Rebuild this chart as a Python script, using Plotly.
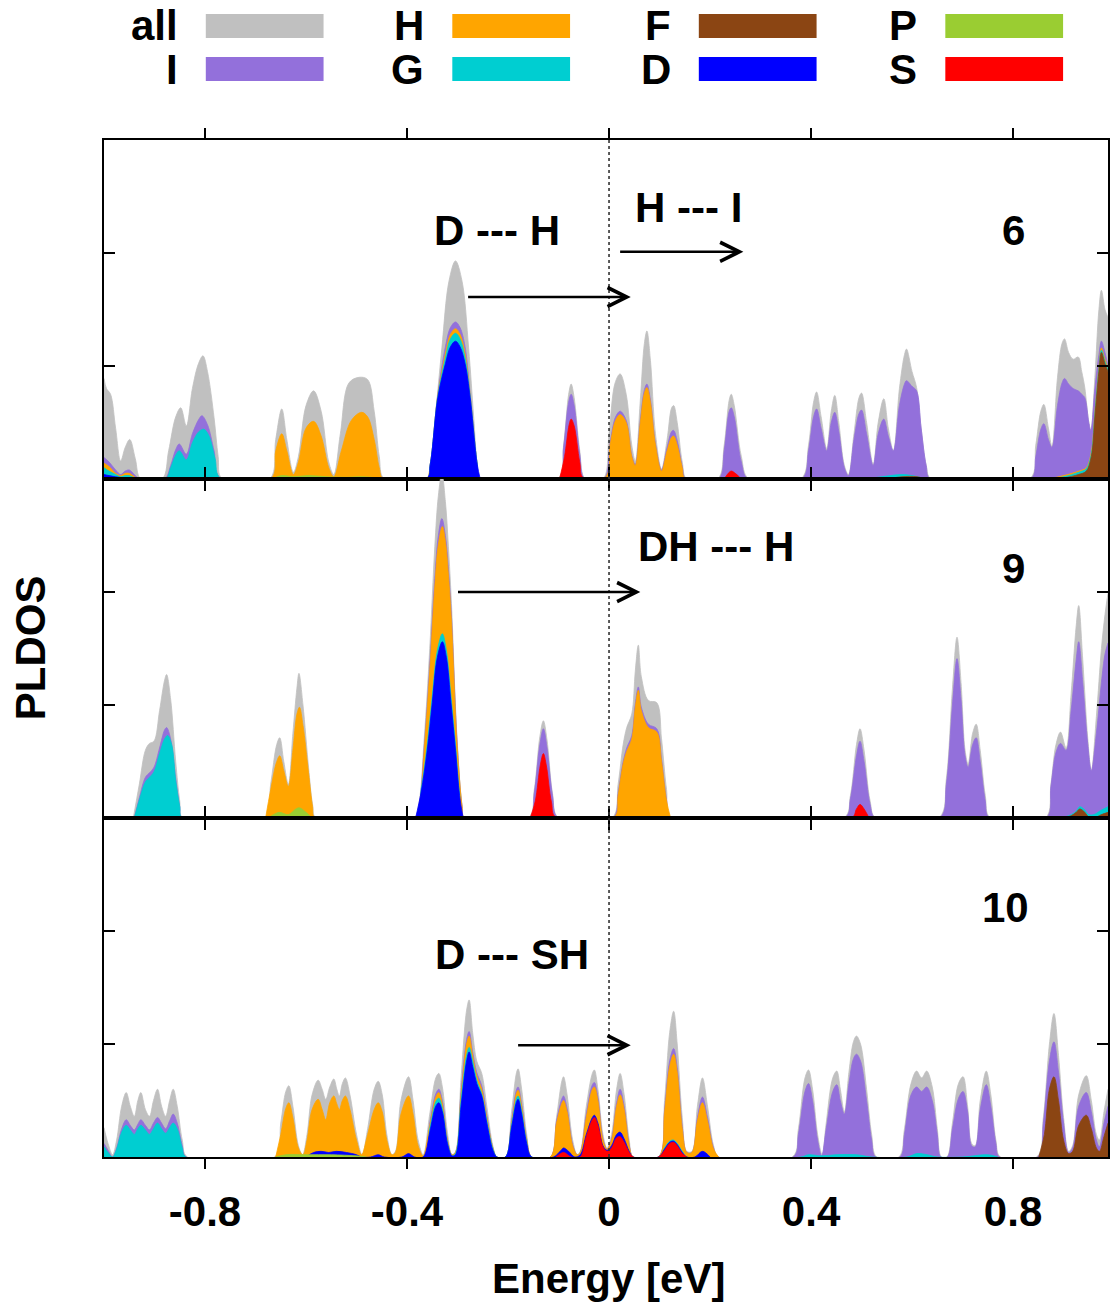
import plotly.graph_objects as go
from plotly.subplots import make_subplots

# ---------------- data ----------------
species = ["all", "I", "H", "G", "F", "D", "P", "S"]
colors = ["#c0c0c0", "#9370db", "#ffa500", "#00ced1", "#8b4513", "#0000ff", "#9acd32", "#ff0000"]
tick_vals = [-0.8, -0.4, 0, 0.4, 0.8]
tick_text = ["-0.8", "-0.4", "0", "0.4", "0.8"]
panel_labels = ["6", "9", "10"]

# panel "6" : cumulative PLDOS (energy eV, value) - top edges of each coloured layer
p6_all = [(-1.0,0.89),(-0.995,0.80),(-0.987,0.75),(-0.977,0.45),(-0.967,0.16),(-0.958,0.28),(-0.949,0.35),(-0.938,0.18),(-0.927,0.0),
          (-0.885,0.0),(-0.872,0.25),(-0.858,0.55),(-0.848,0.63),(-0.837,0.47),(-0.825,0.80),(-0.813,1.02),(-0.804,1.09),(-0.795,0.95),(-0.782,0.54),(-0.774,0.2),(-0.766,0.0),
          (-0.672,0.0),(-0.660,0.35),(-0.648,0.62),(-0.638,0.35),(-0.625,0.06),(-0.615,0.2),(-0.600,0.65),(-0.585,0.78),(-0.570,0.6),(-0.555,0.15),(-0.545,0.04),(-0.532,0.4),(-0.515,0.85),(-0.495,0.90),(-0.478,0.88),(-0.465,0.6),(-0.455,0.2),(-0.445,0.0),
          (-0.362,0.0),(-0.354,0.13),(-0.343,0.6),(-0.331,1.16),(-0.317,1.75),(-0.304,1.93),(-0.291,1.75),(-0.278,1.16),(-0.268,0.55),(-0.261,0.13),(-0.255,0.0),
          (-0.102,0.0),(-0.090,0.3),(-0.080,0.75),(-0.075,0.84),(-0.069,0.72),(-0.058,0.25),(-0.047,0.0),
          (-0.012,0.0),(0.0,0.4),(0.012,0.85),(0.022,0.93),(0.034,0.75),(0.045,0.3),(0.052,0.16),(0.062,0.7),(0.070,1.2),(0.075,1.31),(0.082,1.05),(0.092,0.4),(0.104,0.09),(0.115,0.35),(0.124,0.63),(0.128,0.65),(0.135,0.5),(0.145,0.15),(0.154,0.0),
          (0.215,0.0),(0.228,0.3),(0.238,0.7),(0.242,0.75),(0.248,0.65),(0.262,0.2),(0.277,0.0),
          (0.380,0.0),(0.395,0.3),(0.405,0.68),(0.411,0.77),(0.420,0.55),(0.431,0.27),(0.440,0.6),(0.447,0.74),(0.455,0.5),(0.466,0.12),(0.474,0.04),(0.485,0.4),(0.495,0.72),(0.500,0.76),(0.510,0.5),(0.523,0.13),(0.533,0.5),(0.544,0.71),(0.553,0.45),(0.563,0.25),(0.575,0.8),(0.585,1.1),(0.589,1.15),(0.600,0.95),(0.609,0.81),(0.618,0.45),(0.628,0.12),(0.638,0.0),
          (0.833,0.0),(0.845,0.3),(0.855,0.6),(0.861,0.66),(0.870,0.45),(0.877,0.29),(0.888,0.9),(0.897,1.2),(0.902,1.24),(0.910,1.12),(0.919,1.06),(0.929,1.08),(0.936,0.95),(0.942,0.81),(0.950,0.5),(0.954,0.43),(0.962,0.9),(0.970,1.5),(0.975,1.67),(0.982,1.5),(0.988,1.43)]
p6_I = [(-1.0,0.19),(-0.99,0.15),(-0.977,0.08),(-0.967,0.04),(-0.958,0.07),(-0.950,0.08),(-0.940,0.04),(-0.930,0.0),
        (-0.880,0.0),(-0.868,0.12),(-0.858,0.26),(-0.851,0.31),(-0.837,0.22),(-0.825,0.40),(-0.812,0.53),(-0.806,0.56),(-0.795,0.48),(-0.782,0.25),(-0.768,0.0),
        (-0.362,0.0),(-0.354,0.13),(-0.339,0.75),(-0.324,1.17),(-0.314,1.34),(-0.304,1.39),(-0.295,1.34),(-0.285,1.17),(-0.275,0.75),(-0.261,0.13),(-0.255,0.0),
        (-0.100,0.0),(-0.090,0.28),(-0.080,0.68),(-0.075,0.75),(-0.069,0.65),(-0.058,0.22),(-0.048,0.0),
        (-0.010,0.0),(0.002,0.32),(0.013,0.55),(0.022,0.60),(0.034,0.52),(0.045,0.21),(0.052,0.13),(0.062,0.52),(0.070,0.79),(0.075,0.84),(0.082,0.70),(0.092,0.31),(0.104,0.08),(0.115,0.28),(0.124,0.42),(0.128,0.43),(0.135,0.34),(0.145,0.11),(0.152,0.0),
        (0.217,0.0),(0.228,0.25),(0.238,0.6),(0.242,0.63),(0.248,0.55),(0.262,0.15),(0.275,0.0),
        (0.382,0.0),(0.395,0.25),(0.405,0.55),(0.411,0.62),(0.420,0.45),(0.431,0.25),(0.440,0.5),(0.447,0.59),(0.455,0.42),(0.466,0.1),(0.474,0.03),(0.485,0.35),(0.495,0.58),(0.500,0.61),(0.510,0.4),(0.523,0.12),(0.533,0.4),(0.544,0.53),(0.553,0.38),(0.563,0.25),(0.575,0.65),(0.585,0.84),(0.589,0.87),(0.600,0.82),(0.609,0.78),(0.618,0.45),(0.628,0.12),(0.636,0.0),
        (0.835,0.0),(0.845,0.2),(0.855,0.44),(0.861,0.49),(0.870,0.35),(0.877,0.28),(0.888,0.65),(0.897,0.85),(0.902,0.89),(0.910,0.84),(0.919,0.80),(0.929,0.78),(0.936,0.75),(0.942,0.72),(0.950,0.5),(0.954,0.43),(0.962,0.8),(0.970,1.1),(0.975,1.22),(0.982,1.12),(0.988,1.0)]
p6_H = [(-1.0,0.14),(-0.99,0.11),(-0.977,0.05),(-0.967,0.03),(-0.958,0.05),(-0.950,0.05),(-0.940,0.02),(-0.932,0.0),
        (-0.670,0.0),(-0.660,0.25),(-0.648,0.40),(-0.638,0.25),(-0.625,0.04),(-0.615,0.15),(-0.600,0.45),(-0.585,0.51),(-0.570,0.38),(-0.555,0.1),(-0.545,0.02),(-0.530,0.25),(-0.510,0.52),(-0.490,0.59),(-0.478,0.55),(-0.465,0.35),(-0.455,0.1),(-0.447,0.0),
        (-0.362,0.0),(-0.354,0.13),(-0.339,0.74),(-0.324,1.11),(-0.314,1.28),(-0.304,1.33),(-0.295,1.28),(-0.285,1.11),(-0.275,0.74),(-0.261,0.13),(-0.255,0.0),
        (-0.010,0.0),(0.002,0.3),(0.013,0.52),(0.022,0.57),(0.034,0.5),(0.045,0.2),(0.052,0.12),(0.062,0.5),(0.070,0.76),(0.075,0.81),(0.082,0.68),(0.092,0.3),(0.104,0.07),(0.115,0.25),(0.124,0.37),(0.128,0.38),(0.135,0.3),(0.145,0.1),(0.152,0.0),
        (0.86,0.0),(0.90,0.03),(0.93,0.07),(0.945,0.1),(0.955,0.24),(0.962,0.59),(0.970,0.99),(0.975,1.16),(0.982,1.06),(0.988,0.99)]
p6_G = [(-1.0,0.10),(-0.99,0.07),(-0.977,0.04),(-0.967,0.02),(-0.958,0.03),(-0.950,0.03),(-0.940,0.01),(-0.934,0.0),
        (-0.878,0.0),(-0.868,0.1),(-0.858,0.21),(-0.851,0.25),(-0.837,0.17),(-0.825,0.32),(-0.812,0.42),(-0.802,0.44),(-0.792,0.38),(-0.780,0.18),(-0.768,0.0),
        (-0.362,0.0),(-0.354,0.13),(-0.339,0.73),(-0.324,1.07),(-0.314,1.24),(-0.304,1.29),(-0.295,1.24),(-0.285,1.07),(-0.275,0.73),(-0.261,0.13),(-0.255,0.0),
        (0.50,0.0),(0.54,0.02),(0.58,0.04),(0.60,0.03),(0.62,0.01),(0.63,0.0),
        (0.86,0.0),(0.90,0.02),(0.93,0.06),(0.945,0.09),(0.955,0.22),(0.962,0.57),(0.970,0.97),(0.975,1.14),(0.982,1.04),(0.988,0.97)]
p6_F = [(0.55,0.0),(0.58,0.02),(0.61,0.02),(0.63,0.0),
        (0.86,0.0),(0.90,0.01),(0.93,0.04),(0.945,0.07),(0.955,0.2),(0.962,0.55),(0.970,0.95),(0.975,1.12),(0.982,1.02),(0.988,0.95)]
p6_D = [(-1.0,0.04),(-0.99,0.03),(-0.977,0.02),(-0.960,0.01),(-0.945,0.01),(-0.935,0.0),
        (-0.362,0.0),(-0.354,0.13),(-0.339,0.72),(-0.324,1.02),(-0.314,1.17),(-0.304,1.22),(-0.295,1.17),(-0.285,1.02),(-0.275,0.72),(-0.261,0.13),(-0.255,0.0)]
p6_P = [(-0.668,0.0),(-0.648,0.03),(-0.625,0.02),(-0.595,0.03),(-0.56,0.02),(-0.52,0.015),(-0.49,0.02),(-0.46,0.01),(-0.45,0.0)]
p6_S = [(-0.098,0.0),(-0.088,0.2),(-0.079,0.48),(-0.075,0.53),(-0.069,0.47),(-0.058,0.15),(-0.049,0.0),
        (0.225,0.0),(0.236,0.05),(0.242,0.07),(0.250,0.05),(0.262,0.0)]

# panel "9"
p9_all = [(-0.942,0.0),(-0.930,0.3),(-0.918,0.6),(-0.910,0.66),(-0.901,0.68),(-0.890,0.95),(-0.880,1.22),(-0.876,1.27),(-0.868,1.05),(-0.858,0.5),(-0.850,0.15),(-0.844,0.0),
          (-0.682,0.0),(-0.670,0.3),(-0.658,0.65),(-0.652,0.71),(-0.644,0.5),(-0.635,0.30),(-0.626,0.75),(-0.618,1.15),(-0.614,1.28),(-0.606,1.0),(-0.595,0.45),(-0.587,0.12),(-0.580,0.0),
          (-0.387,0.0),(-0.377,0.12),(-0.366,0.7),(-0.355,1.5),(-0.345,2.4),(-0.338,2.85),(-0.331,3.05),(-0.324,2.8),(-0.318,2.4),(-0.312,1.9),(-0.301,0.71),(-0.291,0.12),(-0.285,0.0),
          (-0.160,0.0),(-0.148,0.25),(-0.137,0.72),(-0.130,0.86),(-0.123,0.7),(-0.112,0.22),(-0.100,0.0),
          (0.006,0.0),(0.018,0.3),(0.028,0.65),(0.035,0.80),(0.045,0.92),(0.052,1.3),(0.058,1.53),(0.064,1.25),(0.078,1.04),(0.0946,1.02),(0.104,0.7),(0.114,0.25),(0.124,0.0),
          (0.465,0.0),(0.478,0.2),(0.490,0.65),(0.497,0.79),(0.505,0.6),(0.517,0.15),(0.528,0.0),
          (0.653,0.0),(0.668,0.35),(0.680,1.15),(0.689,1.60),(0.697,1.2),(0.705,0.6),(0.711,0.48),(0.720,0.75),(0.727,0.83),(0.735,0.6),(0.745,0.2),(0.755,0.0),
          (0.864,0.0),(0.875,0.3),(0.885,0.65),(0.894,0.76),(0.905,0.62),(0.915,1.1),(0.925,1.7),(0.930,1.88),(0.938,1.4),(0.948,0.7),(0.955,0.42),(0.965,0.9),(0.975,1.5),(0.982,1.8),(0.988,1.99)]
p9_I = [(-0.940,0.0),(-0.930,0.18),(-0.918,0.36),(-0.910,0.40),(-0.901,0.45),(-0.890,0.62),(-0.880,0.78),(-0.876,0.80),(-0.868,0.7),(-0.858,0.35),(-0.850,0.1),(-0.845,0.0),
        (-0.385,0.0),(-0.376,0.12),(-0.366,0.62),(-0.355,1.35),(-0.345,2.12),(-0.338,2.5),(-0.331,2.65),(-0.324,2.5),(-0.318,2.2),(-0.312,1.78),(-0.301,0.68),(-0.291,0.1),(-0.286,0.0),
        (-0.158,0.0),(-0.148,0.22),(-0.137,0.65),(-0.130,0.79),(-0.123,0.63),(-0.112,0.2),(-0.101,0.0),
        (0.008,0.0),(0.018,0.22),(0.028,0.5),(0.035,0.62),(0.045,0.73),(0.052,1.01),(0.058,1.16),(0.064,0.98),(0.078,0.83),(0.0946,0.79),(0.104,0.52),(0.114,0.16),(0.123,0.0),
        (0.467,0.0),(0.478,0.17),(0.490,0.55),(0.497,0.68),(0.505,0.5),(0.517,0.12),(0.527,0.0),
        (0.655,0.0),(0.668,0.3),(0.680,1.0),(0.689,1.41),(0.697,1.05),(0.705,0.55),(0.711,0.45),(0.720,0.65),(0.727,0.71),(0.735,0.5),(0.745,0.15),(0.753,0.0),
        (0.866,0.0),(0.875,0.28),(0.885,0.58),(0.894,0.66),(0.905,0.6),(0.915,0.95),(0.925,1.4),(0.930,1.56),(0.938,1.2),(0.948,0.65),(0.955,0.42),(0.965,0.75),(0.975,1.2),(0.982,1.45),(0.988,1.55)]
p9_H = [(-0.680,0.0),(-0.670,0.25),(-0.658,0.5),(-0.652,0.55),(-0.644,0.42),(-0.635,0.28),(-0.626,0.6),(-0.618,0.92),(-0.613,0.98),(-0.606,0.82),(-0.595,0.4),(-0.587,0.1),(-0.582,0.0),
        (-0.384,0.0),(-0.375,0.12),(-0.366,0.6),(-0.355,1.3),(-0.345,2.05),(-0.338,2.42),(-0.330,2.58),(-0.324,2.45),(-0.318,2.15),(-0.312,1.74),(-0.301,0.66),(-0.291,0.1),(-0.287,0.0),
        (0.009,0.0),(0.018,0.2),(0.028,0.48),(0.035,0.59),(0.045,0.7),(0.052,0.98),(0.058,1.13),(0.064,0.95),(0.078,0.80),(0.0946,0.76),(0.104,0.5),(0.114,0.15),(0.122,0.0)]
p9_G = [(-0.940,0.0),(-0.930,0.16),(-0.918,0.32),(-0.910,0.36),(-0.901,0.41),(-0.890,0.57),(-0.880,0.70),(-0.874,0.73),(-0.866,0.65),(-0.858,0.33),(-0.850,0.1),(-0.845,0.0),
        (-0.383,0.0),(-0.372,0.25),(-0.360,0.65),(-0.350,1.08),(-0.340,1.48),(-0.330,1.63),(-0.322,1.48),(-0.313,1.08),(-0.304,0.65),(-0.296,0.22),(-0.288,0.0),
        (0.880,0.0),(0.910,0.02),(0.925,0.06),(0.932,0.1),(0.940,0.08),(0.950,0.03),(0.960,0.03),(0.975,0.07),(0.988,0.10)]
p9_F = [(0.900,0.0),(0.915,0.02),(0.925,0.05),(0.932,0.08),(0.940,0.06),(0.950,0.01),(0.960,0.0),(0.975,0.03),(0.988,0.05)]
p9_D = [(-0.383,0.0),(-0.372,0.23),(-0.360,0.6),(-0.350,1.02),(-0.340,1.42),(-0.330,1.56),(-0.322,1.42),(-0.313,1.02),(-0.304,0.6),(-0.296,0.2),(-0.289,0.0)]
p9_P = [(-0.675,0.0),(-0.660,0.04),(-0.652,0.05),(-0.635,0.03),(-0.620,0.08),(-0.613,0.09),(-0.600,0.05),(-0.588,0.0)]
p9_S = [(-0.156,0.0),(-0.146,0.15),(-0.136,0.47),(-0.130,0.57),(-0.124,0.46),(-0.114,0.14),(-0.104,0.0),
        (0.480,0.0),(0.490,0.08),(0.497,0.12),(0.505,0.08),(0.515,0.0)]

# panel "10"
p10_all = [(-1.0,0.26),(-0.992,0.12),(-0.983,0.02),(-0.975,0.15),(-0.965,0.45),(-0.956,0.57),(-0.948,0.45),(-0.940,0.36),(-0.933,0.5),(-0.927,0.57),(-0.918,0.42),(-0.910,0.36),(-0.902,0.5),(-0.894,0.60),(-0.886,0.45),(-0.878,0.36),(-0.870,0.5),(-0.863,0.60),(-0.855,0.45),(-0.845,0.15),(-0.835,0.0),
           (-0.662,0.0),(-0.650,0.3),(-0.640,0.58),(-0.634,0.63),(-0.626,0.45),(-0.615,0.1),(-0.607,0.02),(-0.598,0.2),(-0.588,0.55),(-0.576,0.68),(-0.568,0.6),(-0.561,0.51),(-0.553,0.62),(-0.545,0.69),(-0.539,0.6),(-0.534,0.54),(-0.528,0.65),(-0.522,0.70),(-0.513,0.55),(-0.500,0.2),(-0.489,0.02),(-0.478,0.25),(-0.465,0.6),(-0.457,0.67),(-0.449,0.55),(-0.440,0.2),(-0.430,0.02),(-0.423,0.05),(-0.412,0.5),(-0.397,0.71),(-0.388,0.5),(-0.378,0.15),(-0.368,0.02),
           (-0.355,0.38),(-0.343,0.7),(-0.337,0.74),(-0.330,0.62),(-0.320,0.22),(-0.311,0.02),(-0.304,0.05),(-0.293,0.7),(-0.282,1.3),(-0.277,1.39),(-0.270,1.1),(-0.262,0.85),(-0.252,0.74),(-0.242,0.45),(-0.230,0.1),(-0.222,0.0),
           (-0.205,0.0),(-0.193,0.4),(-0.183,0.75),(-0.180,0.78),(-0.173,0.6),(-0.163,0.2),(-0.153,0.0),
           (-0.116,0.0),(-0.104,0.35),(-0.093,0.68),(-0.090,0.71),(-0.083,0.55),(-0.072,0.15),(-0.063,0.02),(-0.057,0.05),(-0.045,0.45),(-0.033,0.74),(-0.029,0.77),(-0.022,0.6),(-0.012,0.2),(-0.004,0.08),(0.005,0.2),(0.015,0.6),(0.022,0.74),(0.030,0.55),(0.040,0.15),(0.048,0.0),
           (0.098,0.0),(0.110,0.5),(0.120,1.1),(0.128,1.29),(0.135,1.0),(0.145,0.35),(0.154,0.05),(0.164,0.05),(0.175,0.45),(0.185,0.70),(0.195,0.45),(0.207,0.1),(0.217,0.0),
           (0.363,0.0),(0.375,0.25),(0.388,0.7),(0.395,0.77),(0.403,0.6),(0.413,0.2),(0.422,0.02),(0.430,0.3),(0.443,0.7),(0.451,0.76),(0.458,0.6),(0.466,0.40),(0.475,0.75),(0.484,1.02),(0.490,1.07),(0.498,1.0),(0.510,0.6),(0.520,0.2),(0.530,0.0),
           (0.574,0.0),(0.585,0.25),(0.598,0.65),(0.609,0.76),(0.619,0.70),(0.629,0.76),(0.640,0.62),(0.650,0.25),(0.658,0.0),
           (0.669,0.0),(0.680,0.3),(0.692,0.65),(0.701,0.71),(0.710,0.45),(0.718,0.12),(0.725,0.1),(0.735,0.5),(0.747,0.76),(0.756,0.55),(0.766,0.15),(0.775,0.0),
           (0.847,0.0),(0.860,0.35),(0.872,1.0),(0.881,1.27),(0.890,0.9),(0.900,0.35),(0.910,0.05),(0.918,0.1),(0.930,0.55),(0.945,0.72),(0.955,0.5),(0.965,0.2),(0.971,0.15),(0.980,0.4),(0.988,0.6)]
p10_I = [(-1.0,0.12),(-0.992,0.06),(-0.983,0.0),(-0.975,0.08),(-0.965,0.25),(-0.956,0.33),(-0.948,0.28),(-0.940,0.24),(-0.933,0.29),(-0.927,0.33),(-0.918,0.28),(-0.910,0.24),(-0.902,0.3),(-0.894,0.35),(-0.886,0.3),(-0.878,0.25),(-0.870,0.32),(-0.863,0.38),(-0.855,0.3),(-0.845,0.1),(-0.837,0.0),
         (-0.368,0.0),(-0.355,0.3),(-0.343,0.56),(-0.337,0.6),(-0.330,0.5),(-0.320,0.16),(-0.311,0.02),(-0.304,0.04),(-0.293,0.58),(-0.282,1.04),(-0.277,1.11),(-0.270,0.93),(-0.262,0.75),(-0.252,0.63),(-0.242,0.37),(-0.230,0.08),(-0.222,0.0),
         (-0.205,0.0),(-0.193,0.32),(-0.183,0.60),(-0.180,0.62),(-0.173,0.47),(-0.163,0.16),(-0.153,0.0),
         (-0.116,0.0),(-0.104,0.32),(-0.093,0.52),(-0.090,0.54),(-0.083,0.43),(-0.072,0.11),(-0.063,0.02),(-0.057,0.04),(-0.045,0.38),(-0.033,0.64),(-0.029,0.66),(-0.022,0.53),(-0.012,0.16),(-0.004,0.07),(0.005,0.16),(0.015,0.48),(0.022,0.6),(0.030,0.45),(0.040,0.11),(0.048,0.0),
         (0.098,0.0),(0.110,0.42),(0.120,0.85),(0.128,0.96),(0.135,0.79),(0.145,0.27),(0.154,0.04),(0.164,0.04),(0.175,0.35),(0.185,0.53),(0.195,0.35),(0.207,0.08),(0.217,0.0),
         (0.365,0.0),(0.375,0.2),(0.388,0.58),(0.395,0.65),(0.403,0.5),(0.413,0.15),(0.421,0.01),(0.430,0.25),(0.443,0.58),(0.451,0.64),(0.458,0.5),(0.466,0.38),(0.475,0.65),(0.484,0.87),(0.490,0.91),(0.498,0.85),(0.510,0.5),(0.520,0.15),(0.528,0.0),
         (0.576,0.0),(0.585,0.2),(0.598,0.55),(0.609,0.62),(0.619,0.58),(0.629,0.62),(0.640,0.5),(0.650,0.2),(0.657,0.0),
         (0.670,0.0),(0.680,0.25),(0.692,0.52),(0.701,0.58),(0.710,0.4),(0.718,0.1),(0.725,0.09),(0.735,0.42),(0.747,0.64),(0.756,0.45),(0.766,0.12),(0.773,0.0),
         (0.849,0.0),(0.860,0.3),(0.872,0.85),(0.881,1.02),(0.890,0.75),(0.900,0.3),(0.910,0.04),(0.918,0.08),(0.930,0.45),(0.945,0.57),(0.955,0.4),(0.965,0.15),(0.971,0.09),(0.980,0.3),(0.988,0.45)]
p10_H = [(-0.660,0.0),(-0.650,0.2),(-0.640,0.43),(-0.634,0.48),(-0.626,0.35),(-0.615,0.08),(-0.606,0.02),(-0.598,0.15),(-0.588,0.42),(-0.576,0.51),(-0.568,0.42),(-0.561,0.33),(-0.553,0.48),(-0.545,0.54),(-0.539,0.47),(-0.534,0.42),(-0.528,0.5),(-0.522,0.54),(-0.513,0.42),(-0.500,0.15),(-0.490,0.02),(-0.478,0.2),(-0.465,0.42),(-0.457,0.48),(-0.449,0.4),(-0.440,0.15),(-0.430,0.02),(-0.423,0.04),(-0.412,0.38),(-0.397,0.54),(-0.388,0.38),(-0.378,0.1),(-0.368,0.01),
         (-0.355,0.28),(-0.343,0.53),(-0.337,0.57),(-0.330,0.47),(-0.320,0.15),(-0.311,0.02),(-0.304,0.04),(-0.293,0.55),(-0.282,1.0),(-0.277,1.07),(-0.270,0.9),(-0.262,0.72),(-0.252,0.6),(-0.242,0.35),(-0.230,0.08),(-0.222,0.0),
         (-0.205,0.0),(-0.193,0.3),(-0.183,0.57),(-0.180,0.59),(-0.173,0.45),(-0.163,0.15),(-0.153,0.0),
         (-0.116,0.0),(-0.104,0.3),(-0.093,0.48),(-0.090,0.50),(-0.083,0.4),(-0.072,0.1),(-0.063,0.02),(-0.057,0.04),(-0.045,0.35),(-0.033,0.6),(-0.029,0.62),(-0.022,0.5),(-0.012,0.15),(-0.004,0.07),(0.005,0.15),(0.015,0.45),(0.022,0.55),(0.030,0.42),(0.040,0.1),(0.048,0.0),
         (0.098,0.0),(0.110,0.4),(0.120,0.8),(0.128,0.91),(0.135,0.75),(0.145,0.25),(0.154,0.04),(0.164,0.04),(0.175,0.32),(0.185,0.48),(0.195,0.32),(0.207,0.07),(0.217,0.0)]
p10_G = [(-1.0,0.09),(-0.992,0.04),(-0.983,0.0),(-0.975,0.07),(-0.965,0.22),(-0.956,0.28),(-0.948,0.24),(-0.940,0.20),(-0.933,0.25),(-0.927,0.28),(-0.918,0.24),(-0.910,0.20),(-0.902,0.25),(-0.894,0.30),(-0.886,0.25),(-0.878,0.21),(-0.870,0.26),(-0.863,0.30),(-0.855,0.25),(-0.845,0.08),(-0.838,0.0),
         (-0.368,0.0),(-0.355,0.25),(-0.343,0.49),(-0.337,0.52),(-0.330,0.43),(-0.320,0.13),(-0.311,0.01),(-0.304,0.03),(-0.293,0.5),(-0.282,0.9),(-0.277,0.97),(-0.270,0.85),(-0.262,0.68),(-0.252,0.56),(-0.242,0.32),(-0.230,0.07),(-0.222,0.0),
         (-0.205,0.0),(-0.193,0.28),(-0.183,0.52),(-0.180,0.54),(-0.173,0.41),(-0.163,0.13),(-0.153,0.0),
         (0.098,0.0),(0.110,0.08),(0.120,0.14),(0.128,0.15),(0.135,0.12),(0.145,0.05),(0.154,0.0),
         (0.38,0.0),(0.395,0.02),(0.42,0.01),(0.45,0.02),(0.49,0.02),(0.52,0.0),(0.59,0.0),(0.61,0.03),(0.63,0.02),(0.65,0.0),(0.70,0.0),(0.75,0.02),(0.77,0.0)]
p10_F = [(0.851,0.0),(0.862,0.2),(0.872,0.6),(0.881,0.71),(0.890,0.5),(0.900,0.15),(0.910,0.03),(0.918,0.05),(0.930,0.28),(0.945,0.37),(0.955,0.25),(0.965,0.08),(0.971,0.05),(0.980,0.18),(0.988,0.3)]
p10_D = [(-0.600,0.0),(-0.585,0.04),(-0.570,0.05),(-0.555,0.04),(-0.540,0.05),(-0.520,0.04),(-0.500,0.02),(-0.490,0.0),(-0.472,0.0),(-0.457,0.02),(-0.445,0.0),(-0.410,0.0),(-0.397,0.03),(-0.385,0.0),
         (-0.368,0.0),(-0.355,0.22),(-0.343,0.45),(-0.337,0.48),(-0.330,0.4),(-0.320,0.12),(-0.311,0.01),(-0.304,0.02),(-0.293,0.45),(-0.282,0.85),(-0.277,0.93),(-0.270,0.8),(-0.262,0.65),(-0.252,0.54),(-0.242,0.3),(-0.230,0.06),(-0.222,0.0),
         (-0.205,0.0),(-0.193,0.26),(-0.183,0.49),(-0.180,0.51),(-0.173,0.38),(-0.163,0.12),(-0.153,0.0),
         (-0.110,0.0),(-0.095,0.06),(-0.090,0.08),(-0.080,0.05),(-0.068,0.0),(-0.057,0.02),(-0.045,0.2),(-0.033,0.35),(-0.029,0.37),(-0.022,0.3),(-0.012,0.1),(-0.004,0.06),(0.005,0.1),(0.015,0.2),(0.022,0.22),(0.030,0.16),(0.040,0.05),(0.048,0.0),
         (0.098,0.0),(0.110,0.07),(0.120,0.13),(0.128,0.14),(0.135,0.11),(0.145,0.04),(0.154,0.0),(0.170,0.0),(0.185,0.05),(0.200,0.0)]
p10_P = [(-0.66,0.0),(-0.64,0.02),(-0.60,0.02),(-0.55,0.02),(-0.50,0.01),(-0.48,0.0)]
p10_S = [(-0.105,0.0),(-0.090,0.04),(-0.075,0.0),(-0.057,0.0),(-0.045,0.18),(-0.033,0.33),(-0.029,0.35),(-0.022,0.28),(-0.012,0.09),(-0.004,0.05),(0.005,0.08),(0.015,0.17),(0.022,0.18),(0.030,0.13),(0.040,0.04),(0.048,0.0),
         (0.098,0.0),(0.110,0.06),(0.120,0.12),(0.128,0.13),(0.135,0.1),(0.145,0.03),(0.154,0.0)]

panels = [
    [p6_all, p6_I, p6_H, p6_G, p6_F, p6_D, p6_P, p6_S],
    [p9_all, p9_I, p9_H, p9_G, p9_F, p9_D, p9_P, p9_S],
    [p10_all, p10_I, p10_H, p10_G, p10_F, p10_D, p10_P, p10_S],
]

# ---------------- figure ----------------
FONT = "Liberation Sans, Arial, Helvetica, sans-serif"
W, H = 1110, 1303
ML, MR, MT, MB = 104, 0, 140, 146
XR = [-1.0, 0.988]

fig = make_subplots(rows=3, cols=1, shared_xaxes=True, vertical_spacing=0)

for r, layers in enumerate(panels, start=1):
    for name, col, pts in zip(species, colors, layers):
        xs = [p[0] for p in pts]
        ys = [p[1] for p in pts]
        fig.add_trace(go.Scatter(x=xs, y=ys, mode="lines", name=name,
                                 line=dict(color=col, width=0.8, shape="spline", smoothing=1.0),
                                 fill="tozeroy", fillcolor=col, showlegend=False,
                                 hoverinfo="skip"), row=r, col=1)
    fig.update_yaxes(range=[0, 3], tickvals=[1, 2], showticklabels=False, ticks="inside",
                     ticklen=11, tickwidth=1.5, tickcolor="black", showline=True,
                     linecolor="black", linewidth=2, mirror="ticks", showgrid=False,
                     zeroline=False, row=r, col=1)
    fig.update_xaxes(range=XR, tickvals=tick_vals, ticktext=tick_text,
                     showticklabels=(r == 3), ticks="outside", ticklen=10, tickwidth=1.5,
                     tickcolor="black", showline=True, linecolor="black", linewidth=2,
                     mirror="ticks", showgrid=False, zeroline=False, ticklabelstandoff=7,
                     tickfont=dict(family=FONT, size=42, color="black", weight="bold"),
                     row=r, col=1)

# dotted Fermi level
fig.add_shape(type="line", xref="x3", yref="paper", x0=0, x1=0, y0=0, y1=1,
              line=dict(color="#333333", width=1.6, dash="dot"), layer="above")

bold = dict(family=FONT, size=42, color="black", weight="bold")
ann = []
# panel texts
texts = [
    (1, "D --- H", -0.222, 2.20), (1, "H --- I", 0.157, 2.40), (1, panel_labels[0], 0.80, 2.20),
    (2, "DH --- H", 0.211, 2.40), (2, panel_labels[1], 0.80, 2.21),
    (3, "D --- SH", -0.193, 1.79), (3, panel_labels[2], 0.786, 2.21),
]
for r, t, x, y in texts:
    sfx = "" if r == 1 else str(r)
    ann.append(dict(xref="x" + sfx, yref="y" + sfx, x=x, y=y, text=t, showarrow=False,
                    font=bold, xanchor="center", yanchor="middle"))
# arrows (tail -> tip)
arrows = [(1, -0.282, 0.043, 1.61), (1, 0.019, 0.266, 2.01), (2, -0.302, 0.062, 2.0), (3, -0.183, 0.043, 0.99)]
for r, x0, x1, y in arrows:
    sfx = "" if r == 1 else str(r)
    ann.append(dict(xref="x" + sfx, yref="y" + sfx, axref="x" + sfx, ayref="y" + sfx,
                    x=x1, y=y, ax=x0, ay=y, text="", showarrow=True, arrowhead=5,
                    arrowsize=1.5, arrowwidth=2.5, arrowcolor="black"))

# axis titles
pw = W - ML - MR
ph = H - MT - MB
def px2paper(px, py):
    return (px - ML) / pw, (H - MB - py) / ph

tx, ty = px2paper(610, 1278)
ann.append(dict(xref="paper", yref="paper", x=tx, y=ty, text="Energy [eV]", showarrow=False,
                font=bold, xanchor="center", yanchor="middle"))
tx, ty = px2paper(30, 648)
ann.append(dict(xref="paper", yref="paper", x=tx, y=ty, text="PLDOS", showarrow=False,
                font=bold, textangle=-90, xanchor="center", yanchor="middle"))

# legend (gnuplot style: label then swatch), 4 columns x 2 rows
shapes = []
for i, (name, col) in enumerate(zip(species, colors)):
    c, row = i // 2, i % 2
    lx, ly = px2paper(180 + 247 * c, 26 + 43 * row)
    ann.append(dict(xref="paper", yref="paper", x=lx, y=ly, text=name, showarrow=False,
                    font=bold, xanchor="right", yanchor="middle"))
    x0, y1 = px2paper(206 + 247 * c, 14 + 43 * row)
    x1, y0 = px2paper(324 + 247 * c, 38 + 43 * row)
    shapes.append(dict(type="rect", xref="paper", yref="paper", x0=x0, x1=x1, y0=y0, y1=y1,
                       fillcolor=col, line=dict(width=0)))

for s in shapes:
    fig.add_shape(**s)

fig.update_layout(width=W, height=H, margin=dict(l=ML, r=MR, t=MT, b=MB),
                  plot_bgcolor="white", paper_bgcolor="white", showlegend=False,
                  annotations=ann, font=dict(family=FONT, color="black"))

fig.write_html("out.html")
